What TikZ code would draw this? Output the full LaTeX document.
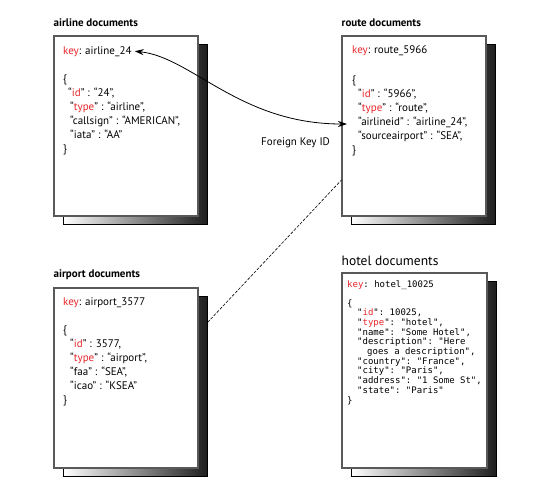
\documentclass[tikz,border=0pt]{standalone}
\usepackage{fontspec}
\setmainfont{PT Sans}
\setmonofont{DejaVu Sans Mono}
\usepackage{xcolor}
\usetikzlibrary{arrows.meta, calc, shadows, positioning}
\definecolor{keyred}{HTML}{E8262B}
\newcommand{\fkArrow}{{Stealth[length=9pt, width=6pt]}}
\newcommand{\kr}[1]{\textcolor{keyred}{#1}}

\begin{document}
\begin{tikzpicture}[x=1pt, y=-1pt, font=\fontsize{11}{14}\selectfont,
	docbox/.style={draw=black!65, line width=1.1pt, fill=white, minimum width=144pt, minimum height=180pt, inner sep=0pt,
		general shadow={shadow xshift=9pt, shadow yshift=-8pt, left color=white, right color=black!88, draw=black, line width=0.6pt}},
	doctitle/.style={anchor=base west, inner sep=0pt, font=\bfseries\fontsize{11}{12}\selectfont},
	doctext/.style={anchor=base west, inner sep=0pt, align=left},
	monotext/.style={anchor=base west, inner sep=0pt, align=left, font=\ttfamily\fontsize{9}{9.7}\selectfont}]
	\useasboundingbox (0,0) rectangle (538,490);

	% document boxes
	\node[docbox] (airline) at (126,126) {};
	\node[docbox] (route) at (414,126) {};
	\node[docbox] (airport) at (126,378) {};
	\node[docbox, minimum width=145pt, minimum height=195pt] (hotel) at (414.5,370.5) {};

	% titles
	\node[doctitle] (airlinetitle) at ([yshift=9pt]airline.north west) {airline documents};
	\node[doctitle] (routetitle) at ([yshift=9pt]route.north west) {route documents};
	\node[doctitle] (airporttitle) at ([yshift=10pt]airport.north west) {airport documents};
	\node[doctitle, font=\fontsize{13.5}{14}\selectfont] (hoteltitle) at ([yshift=7pt]hotel.north west) {hotel documents};

	% airline (body anchored at the baseline of its last line)
	\node[doctext] (airlinekey) at (63,54) {\kr{key}: airline\_24};
	\node[doctext] (airlinebody) at (63,152) {\{\\
		\hspace*{5pt}“\kr{id}” : “24”,\\
		\hspace*{7pt}“\kr{type}” : “airline”,\\
		\hspace*{7pt}“callsign” : “AMERICAN”,\\
		\hspace*{7pt}“iata” : “AA”\\
		\}};

	% route
	\node[doctext] (routekey) at (352,53) {\kr{key}: route\_5966};
	\node[doctext] (routebody) at (352,153) {\{\\
		\hspace*{6pt}“\kr{id}” : “5966”,\\
		\hspace*{6pt}“\kr{type}” : “route”,\\
		\hspace*{6pt}“airlineid” : “airline\_24”,\\
		\hspace*{6pt}“sourceairport” : “SEA”,\\
		\}};

	% airport
	\node[doctext] (airportkey) at (63,305) {\kr{key}: airport\_3577};
	\node[doctext] (airportbody) at (63,403) {\{\\
		\hspace*{7pt}“\kr{id}” : 3577,\\
		\hspace*{7pt}“\kr{type}” : “airport”,\\
		\hspace*{7pt}“faa” : “SEA”,\\
		\hspace*{7pt}“icao” : “KSEA”\\
		\}};

	% hotel
	\node[monotext] (hotelkey) at (347,287) {\kr{key}: hotel\_10025};
	\node[monotext] (hotelbody) at (347,403) {\{\\
		\hspace*{10pt}"\kr{id}": 10025,\\
		\hspace*{10pt}"\kr{type}": "hotel",\\
		\hspace*{10pt}"name": "Some Hotel",\\
		\hspace*{10pt}"description": "Here\\
		\hspace*{20pt}goes a description",\\
		\hspace*{10pt}"country": "France",\\
		\hspace*{10pt}"city": "Paris",\\
		\hspace*{10pt}"address": "1 Some St",\\
		\hspace*{10pt}"state": "Paris"\\
		\}};

	% links
	\coordinate (fktarget) at (347,124);
	\draw[\fkArrow-\fkArrow, line width=0.8pt] (airlinekey.east) ++(3,0) .. controls +(57,6) and +(-107,0) .. (fktarget);
	\node[doctext] (fklabel) at (261,145) {Foreign Key ID};
	\draw[line width=0.6pt, dash pattern=on 3pt off 1.5pt] ($(airport.north east)+(9,35)$) -- ($(route.west)+(0,54)$);

\end{tikzpicture}
\end{document}
